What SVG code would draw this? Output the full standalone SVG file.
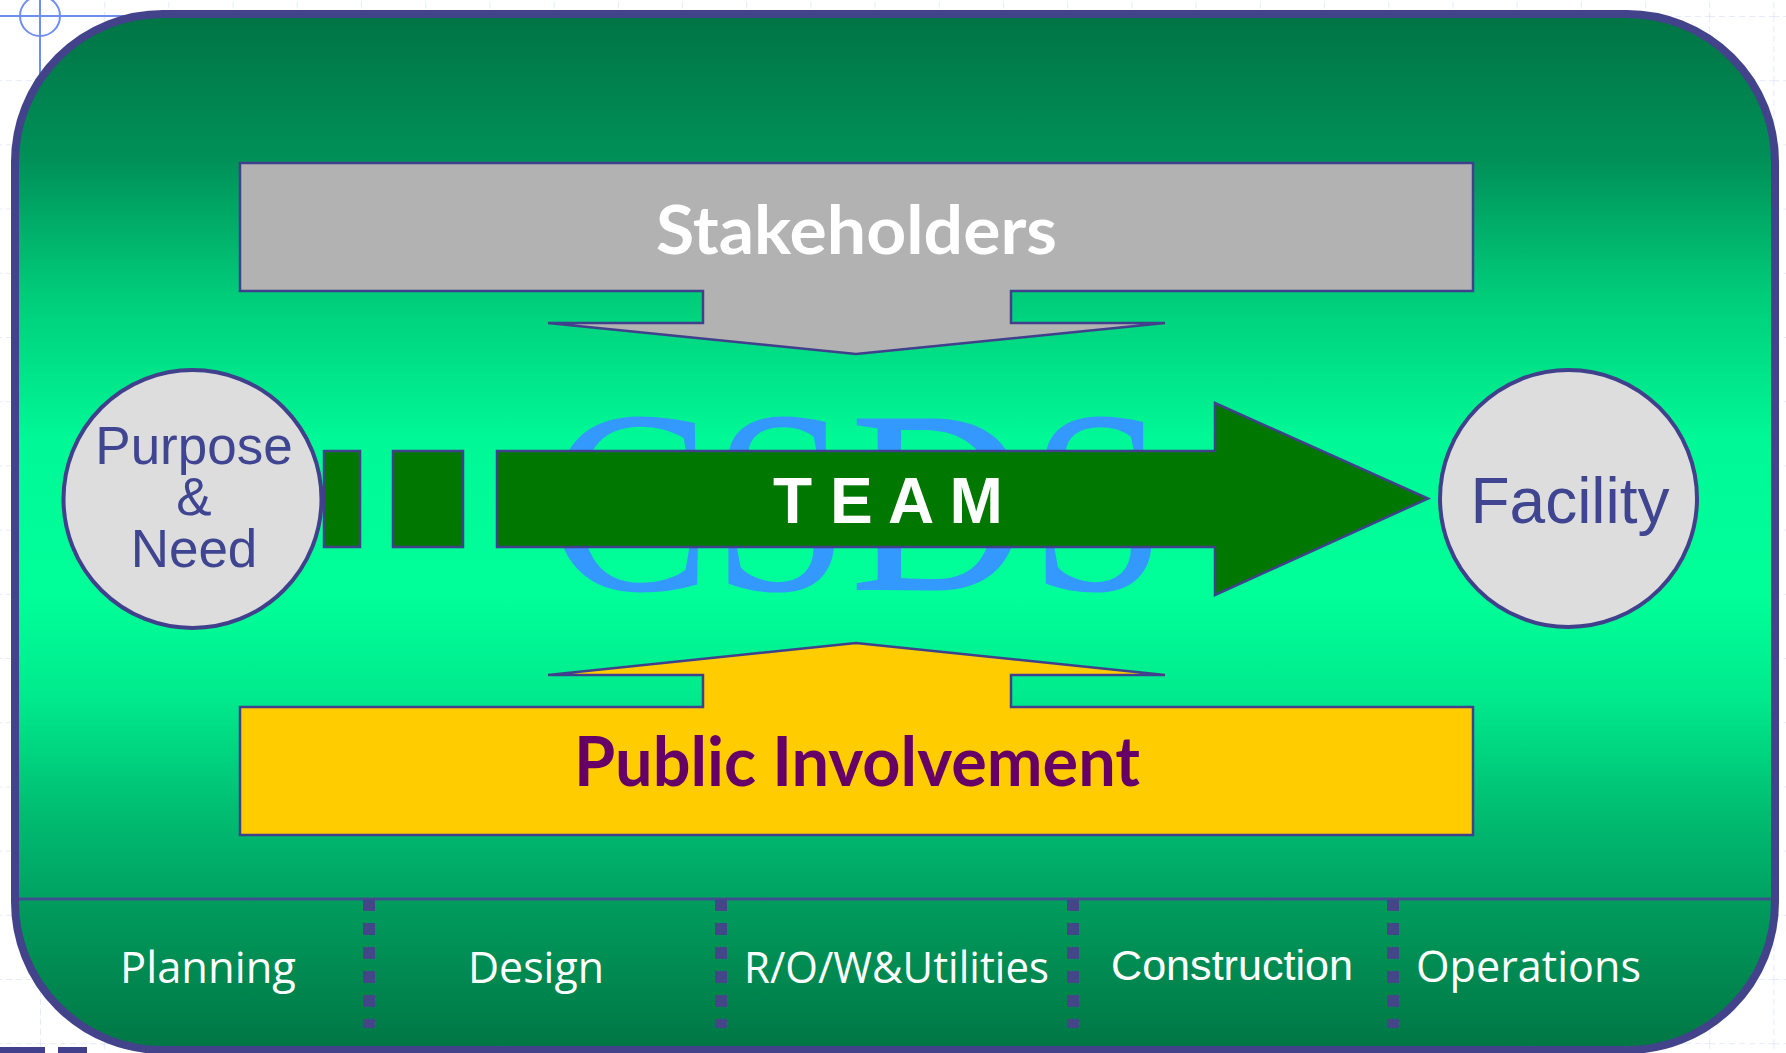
<svg xmlns="http://www.w3.org/2000/svg" width="1786" height="1053" viewBox="0 0 1786 1053">
  <defs>
    <linearGradient id="bgGrad" gradientUnits="userSpaceOnUse" x1="0" y1="14" x2="0" y2="1050">
      <stop offset="0" stop-color="#007444"/>
      <stop offset="0.14" stop-color="#009058"/>
      <stop offset="0.27" stop-color="#00cc7a"/>
      <stop offset="0.41" stop-color="#00f896"/>
      <stop offset="0.56" stop-color="#00ff99"/>
      <stop offset="0.66" stop-color="#00ea8c"/>
      <stop offset="0.77" stop-color="#00bd72"/>
      <stop offset="0.853" stop-color="#00a262"/>
      <stop offset="0.857" stop-color="#009c5e"/>
      <stop offset="1" stop-color="#007644"/>
    </linearGradient>
    <pattern id="grid" patternUnits="userSpaceOnUse" x="40" y="16" width="64.2" height="64.2">
      <path d="M0 0 H64.2 M0 0 V64.2" fill="none" stroke="#dce3f7" stroke-width="1.5" stroke-dasharray="6 4"/>
    </pattern>
    <style>
      .edge { stroke: #40408c; stroke-width: 2.5; stroke-linejoin: miter; }
      .circ { fill: #dddddd; stroke: #40408c; stroke-width: 4; }
      .circText { font-family: "Liberation Sans", Arial, sans-serif; fill: #3f4590; text-anchor: middle; }
      .phase { font-family: "Open Sans", "Liberation Sans", sans-serif; font-size: 43px; fill: #ffffff; }
      .phaseA { font-family: "Liberation Sans", Arial, sans-serif; font-size: 43px; fill: #ffffff; }
      .comic { font-family: "Comic Sans MS", "Lato", "DejaVu Sans", sans-serif; font-weight: bold; }
      .sep { stroke: #45458c; stroke-width: 12; stroke-dasharray: 12 12; }
    </style>
  </defs>

  <!-- background -->
  <rect x="0" y="0" width="1786" height="1053" fill="#ffffff"/>
  <rect x="0" y="0" width="1786" height="1053" fill="url(#grid)"/>
  <g id="crosshair" fill="none" stroke="#6f8ef0" stroke-width="2">
    <circle cx="40" cy="16" r="20"/>
    <line x1="0" y1="16" x2="200" y2="16"/>
    <line x1="40" y1="0" x2="40" y2="110"/>
  </g>
  <rect x="0" y="1047" width="45" height="6" fill="#40408c"/>
  <rect x="58" y="1047" width="29" height="6" fill="#40408c"/>

  <!-- main panel -->
  <g id="panel">
    <rect x="15" y="14" width="1760" height="1036" rx="148" ry="148" fill="url(#bgGrad)" stroke="#42438b" stroke-width="8"/>
    <line x1="19" y1="899" x2="1771" y2="899" stroke="#40508c" stroke-width="3"/>
  </g>

  <!-- watermark -->
  <text x="546" y="590" font-family="'Liberation Serif', 'Times New Roman', serif" font-size="262" fill="#3399ff" textLength="621" lengthAdjust="spacingAndGlyphs">CSDS</text>

  <g id="stakeholders">
    <polygon class="edge" fill="#b2b2b2" points="240,163 1473,163 1473,291 1011,291 1011,323 1165,323 856,354 548,323 703,323 703,291 240,291"/>
    <text class="comic" x="656" y="254" font-size="66" fill="#ffffff" textLength="401" lengthAdjust="spacingAndGlyphs">Stakeholders</text>
  </g>

  <g id="public-involvement">
    <polygon class="edge" fill="#ffcc00" points="240,707 703,707 703,675 548,675 856,643 1165,675 1011,675 1011,707 1473,707 1473,835 240,835"/>
    <text class="comic" x="574" y="786" font-size="68" fill="#660066" textLength="566" lengthAdjust="spacingAndGlyphs">Public Involvement</text>
  </g>

  <g id="team">
    <rect class="edge" x="324" y="451" width="36" height="96" fill="#007800"/>
    <rect class="edge" x="393" y="451" width="70" height="96" fill="#007800"/>
    <polygon class="edge" fill="#007800" points="497,451 1215,451 1215,403 1428,498.5 1215,595 1215,547 497,547"/>
    <text x="773" y="523" font-family="'Liberation Sans', Arial, sans-serif" font-weight="bold" font-size="64" fill="#ffffff" xml:space="preserve">T E A M</text>
  </g>

  <g id="purpose-need">
    <circle class="circ" cx="192.5" cy="499" r="129"/>
    <text class="circText" font-size="53" x="194" y="464">Purpose</text>
    <text class="circText" font-size="53" x="194" y="515">&amp;</text>
    <text class="circText" font-size="53" x="194" y="567">Need</text>
  </g>

  <g id="facility">
    <circle class="circ" cx="1568.5" cy="498.5" r="128.5"/>
    <text class="circText" font-size="64" x="1570" y="523">Facility</text>
  </g>

  <g id="connectors">
    <line class="sep" x1="369" y1="899" x2="369" y2="1028"/>
    <line class="sep" x1="721" y1="899" x2="721" y2="1028"/>
    <line class="sep" x1="1073" y1="899" x2="1073" y2="1028"/>
    <line class="sep" x1="1393" y1="899" x2="1393" y2="1028"/>
  </g>

  <g id="phases">
    <text class="phase" x="120" y="983" textLength="176" lengthAdjust="spacingAndGlyphs">Planning</text>
    <text class="phase" x="468" y="983" textLength="136" lengthAdjust="spacingAndGlyphs">Design</text>
    <text class="phase" x="744" y="983" textLength="305" lengthAdjust="spacingAndGlyphs">R/O/W&amp;Utilities</text>
    <text class="phaseA" x="1111" y="980" textLength="242" lengthAdjust="spacingAndGlyphs">Construction</text>
    <text class="phase" x="1416" y="982" textLength="225" lengthAdjust="spacingAndGlyphs">Operations</text>
  </g>
</svg>
